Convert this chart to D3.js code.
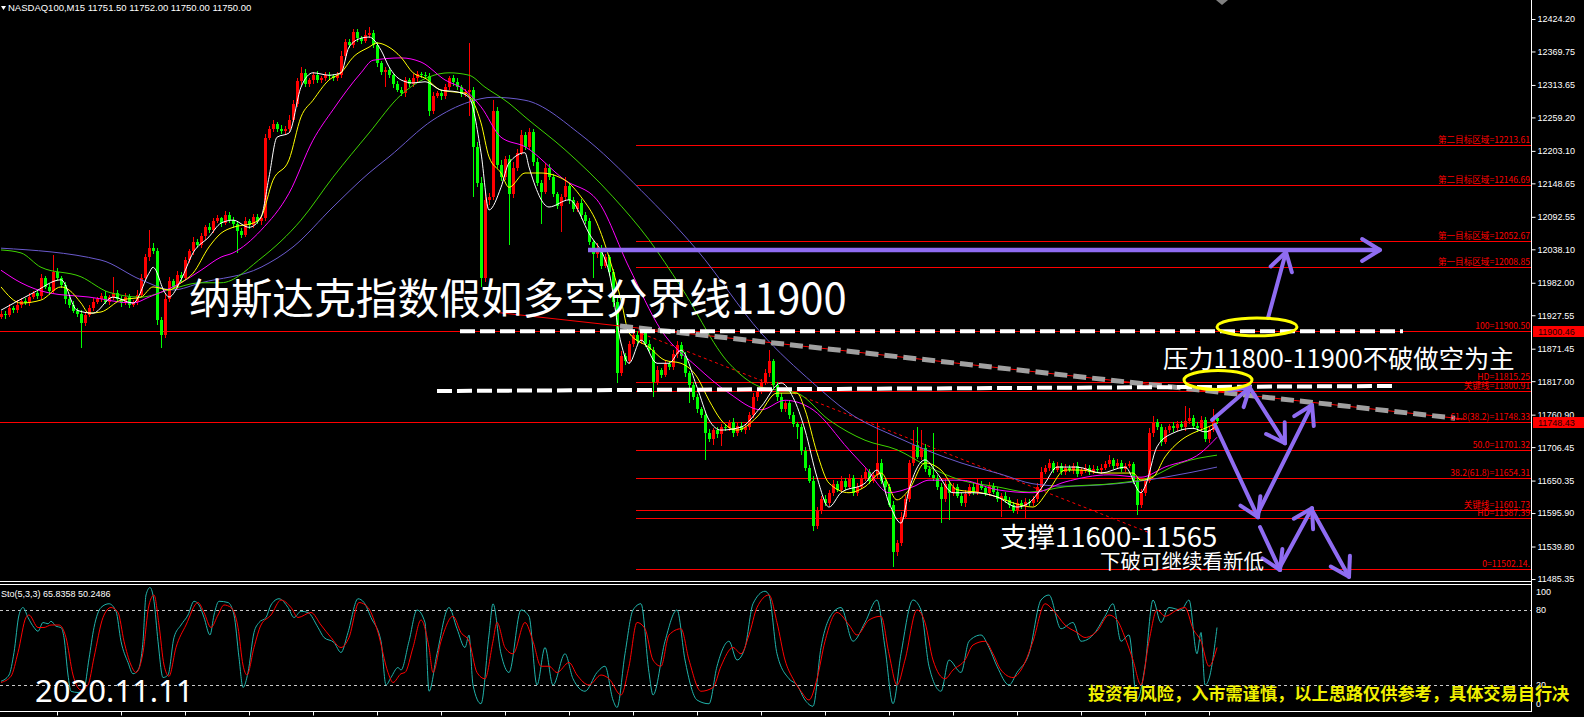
<!DOCTYPE html>
<html>
<head>
<meta charset="utf-8">
<script src="https://cdn.jsdelivr.net/npm/d3@7"></script>
<style>
html, body { margin: 0; padding: 0; background: #000; }
svg { display: block; }
</style>
</head>
<body>
<svg id="chart" width="1584" height="717"></svg>
<script>
// ---- data (bar index 0..304, M15 bars) ----
var firstOpen = 11925;
var closes = [
  11930,11928,11940,11936,11945,11952,11948,11958,11965,11960,
  11990,11975,11968,12000,11990,11978,11955,11945,11935,11930,
  11915,11928,11940,11950,11955,11960,11950,11958,11965,11955,
  11948,11958,11945,11950,11962,11990,12025,12040,12035,11920,
  11895,11955,11985,11975,11995,11990,12020,12035,12050,12045,
  12060,12075,12070,12085,12090,12082,12095,12088,12080,12068,
  12062,12085,12078,12092,12085,12090,12225,12240,12248,12240,
  12236,12240,12255,12282,12320,12334,12315,12322,12330,12322,
  12325,12330,12328,12325,12330,12362,12385,12380,12402,12392,
  12388,12398,12400,12380,12350,12335,12338,12330,12315,12305,
  12300,12322,12315,12325,12332,12330,12328,12270,12295,12300,
  12295,12310,12325,12318,12310,12298,12302,12305,12210,12150,
  11990,12120,12125,12270,12180,12160,12190,12130,12175,12200,
  12230,12210,12235,12185,12150,12135,12175,12160,12130,12110,
  12125,12145,12120,12105,12115,12095,12085,12050,12030,12040,
  12010,12025,12000,11950,11830,11860,11850,11880,11895,11885,
  11898,11880,11870,11815,11835,11828,11845,11840,11862,11878,
  11860,11830,11810,11790,11770,11760,11730,11720,11735,11728,
  11740,11738,11748,11730,11742,11735,11740,11760,11790,11800,
  11815,11830,11850,11810,11790,11770,11780,11760,11745,11740,
  11700,11672,11650,11575,11600,11620,11612,11630,11645,11635,
  11650,11640,11655,11630,11640,11655,11665,11650,11660,11680,
  11650,11640,11610,11530,11545,11590,11620,11680,11710,11690,
  11705,11670,11660,11655,11640,11620,11645,11630,11640,11625,
  11612,11628,11640,11632,11645,11638,11630,11642,11632,11620,
  11625,11618,11610,11600,11612,11608,11615,11612,11620,11640,
  11665,11672,11680,11668,11675,11665,11672,11668,11675,11662,
  11668,11672,11665,11670,11668,11672,11678,11685,11675,11680,
  11670,11675,11678,11650,11610,11630,11650,11730,11748,11740,
  11715,11735,11742,11738,11745,11740,11750,11755,11742,11738,
  11752,11720,11735,11755,11750
];
var upperWick = [
  5,4,6,3,8,4,5,6,3,5, 6,4,5,28,6,4,5,3,6,4, 7,5,4,6,3,5,8,4,27,5, 4,6,5,3,8,6,5,30,8,6,
  5,8,6,4,7,5,6,4,8,5, 6,4,7,5,6,3,8,5,4,6, 5,7,4,6,5,4,7,5,7,4, 6,5,8,6,5,10,6,4,5,7,
  4,6,5,4,6,8,5,6,6,5, 4,7,10,5,6,4,5,6,4,5, 6,5,4,7,5,4,6,5,6,4, 5,6,4,5,7,4,5,79,6,8,
  10,12,8,18,6,8,5,6,10,7, 8,5,6,4,7,5,8,6,5,4, 6,15,5,6,4,7,5,6,4,8, 5,6,4,5,6,8,5,4,7,6,
  5,4,6,5,7,4,6,5,8,6, 5,6,4,5,6,4,5,7,4,6, 5,6,4,7,5,6,4,5,8,6, 5,7,20,5,6,8,4,5,6,4,
  5,6,4,8,6,5,7,4,6,5, 8,4,6,5,7,4,6,5,4,67, 6,5,4,6,5,8,6,5,25,30, 30,6,5,70,4,6,8,5,6,4,
  5,7,4,6,8,5,4,6,5,7, 4,6,5,4,7,5,6,4,5,6, 8,5,6,4,7,5,6,4,5,6, 4,6,5,7,4,6,5,8,4,6,
  5,4,6,4,5,6,4,8,10,6, 5,6,4,7,5,6,25,17,5,6, 7,5,6,15,4
];
var lowerWick = [
  4,6,3,5,4,6,3,5,4,6, 5,4,6,3,5,4,8,5,4,6, 43,5,4,6,3,5,4,6,5,4, 6,4,5,3,6,4,5,6,4,8,
  23,5,6,4,5,6,4,5,6,4, 5,6,4,5,3,6,4,5,6,36, 5,4,6,5,4,6,5,4,5,6, 4,5,6,4,5,6,5,4,6,5,
  5,4,6,5,4,5,6,5,4,6, 5,4,6,5,6,4,25,5,6,4, 5,6,4,5,6,4,5,8,5,4, 6,5,4,6,5,4,5,40,84,8,
  15,6,8,5,6,8,5,85,6,5, 4,6,5,8,6,55,5,6,4,5, 43,5,6,4,5,6,4,5,40,6, 5,4,6,8,16,5,6,4,5,6,
  5,6,4,24,5,6,4,5,4,6, 5,6,30,5,6,4,45,5,10,6, 20,5,4,6,5,4,6,5,4,6, 5,4,6,5,6,4,5,6,4,20,
  6,5,4,10,5,6,4,5,6,4, 5,6,4,5,6,4,5,6,4,5, 6,5,4,25,6,5,4,6,5,4, 5,6,4,5,6,40,5,45,6,4,
  5,6,4,5,6,4,5,6,4,5, 30,5,6,4,5,6,20,5,4,6, 5,4,6,5,4,6,5,4,6,5, 4,5,6,4,5,6,4,5,6,4,
  5,6,4,5,18,6,5,4,6,5, 6,4,5,6,4,5,6,4,5,6, 4,5,7,4,5
];

// moving averages, [bar, price]
var maWhite = [[0,11936],[8,11965],[15,11987],[19,11936],[23,11931],[28,11958],[33,11948],[37,11998],[38,12008],[41,11965],[42,11958],[45,11987],[48,12032],[52,12059],[55,12082],[58,12087],[62,12075],[65,12092],[67,12159],[69,12226],[72,12233],[75,12310],[78,12334],[82,12330],[85,12334],[87,12377],[90,12392],[92,12394],[95,12372],[97,12344],[100,12322],[103,12317],[106,12319],[110,12305],[114,12302],[117,12293],[120,12200],[122,12104],[125,12142],[127,12183],[131,12200],[132,12176],[137,12109],[142,12121],[147,12065],[152,12000],[155,11881],[157,11847],[160,11886],[164,11847],[167,11847],[170,11869],[174,11807],[177,11752],[180,11735],[185,11740],[190,11774],[195,11814],[198,11790],[201,11735],[204,11656],[207,11606],[210,11630],[216,11646],[219,11668],[222,11613],[225,11579],[227,11635],[231,11685],[234,11663],[238,11630],[243,11630],[249,11623],[254,11606],[257,11613],[261,11646],[264,11673],[269,11673],[275,11663],[281,11673],[285,11630],[286,11640],[289,11707],[293,11730],[298,11738],[301,11732],[304,11743]];
var maYellow = [[0,11975],[5,11948],[10,11953],[15,11975],[17,11970],[20,11948],[22,11931],[25,11933],[30,11953],[35,11958],[38,11975],[42,11970],[45,11982],[48,11998],[52,12042],[55,12065],[58,12075],[63,12082],[65,12092],[68,12154],[72,12188],[75,12260],[78,12288],[82,12322],[85,12334],[88,12360],[92,12377],[94,12384],[97,12377],[100,12360],[103,12334],[106,12325],[110,12305],[113,12302],[116,12300],[120,12250],[122,12193],[125,12166],[127,12142],[131,12166],[135,12166],[141,12154],[145,12126],[149,12082],[152,12025],[155,11953],[157,11898],[162,11874],[166,11852],[170,11847],[174,11824],[177,11785],[180,11752],[184,11735],[189,11757],[194,11797],[199,11797],[201,11769],[204,11697],[207,11646],[212,11630],[216,11640],[220,11663],[224,11618],[227,11635],[231,11680],[235,11668],[239,11635],[245,11630],[249,11623],[253,11613],[258,11606],[262,11635],[266,11668],[270,11668],[275,11663],[283,11663],[285,11651],[288,11656],[291,11690],[295,11718],[298,11730],[301,11738],[304,11747]];
var maMagenta = [[0,12003],[5,11982],[12,11965],[22,11958],[33,11948],[37,11958],[45,11982],[50,12003],[55,12025],[58,12032],[65,12070],[72,12132],[78,12221],[83,12272],[90,12334],[93,12355],[100,12359],[105,12352],[111,12322],[116,12305],[120,12277],[125,12226],[131,12210],[141,12154],[149,12121],[157,12008],[165,11903],[174,11841],[182,11797],[190,11769],[196,11785],[203,11769],[212,11702],[216,11673],[222,11630],[228,11640],[232,11651],[240,11651],[249,11635],[258,11630],[266,11648],[277,11660],[285,11656],[291,11673],[300,11697],[304,11723]];
var maGreen = [[0,12037],[5,12032],[10,12008],[20,11992],[27,11966],[35,11958],[42,11970],[50,11982],[55,11982],[65,12023],[75,12087],[83,12159],[92,12233],[100,12297],[107,12327],[112,12334],[117,12330],[121,12310],[127,12283],[131,12260],[141,12205],[153,12126],[162,12054],[170,11975],[182,11847],[190,11807],[199,11797],[207,11752],[216,11718],[224,11702],[232,11673],[240,11651],[249,11640],[257,11631],[266,11640],[279,11646],[287,11655],[295,11680],[304,11693]];
var maBlue = [[0,12040],[25,12020],[35,11987],[43,11970],[50,11982],[65,12008],[73,12042],[83,12109],[92,12166],[97,12193],[108,12255],[117,12285],[123,12293],[131,12288],[145,12230],[160,12137],[174,12037],[190,11898],[203,11814],[212,11764],[224,11723],[240,11680],[250,11661],[258,11645],[266,11641],[275,11643],[283,11648],[291,11656],[304,11673]];

// Sto(5,3,3): main (cyan) and signal (red), [bar, value]
var stoMain = [[0,23],[2,28],[3.25,46],[4.5,76],[5.5,82],[6.75,74],[8.25,66],[9.25,63],[10.5,70],[11.75,69],[12.5,71],[13.75,67],[15,66],[15.75,58],[16.75,28],[17.5,15],[19.25,14],[20.75,17],[22,41],[23.25,66],[25,82],[27,85],[28.75,79],[30,55],[31.75,38],[33,29],[34.25,32],[35.5,55],[36.25,92],[37.25,98],[38.25,87],[39.25,55],[40.5,26],[41.75,28],[43.25,58],[45,68],[46.75,76],[48.25,87],[49.5,84],[50.75,74],[52.25,60],[53.25,76],[54.5,87],[56.75,86],[58.25,76],[59.5,42],[60.5,18],[61.75,30],[63.25,62],[64.5,70],[66.25,74],[67.5,84],[69.5,89],[71.75,82],[73.25,74],[75,79],[76.75,78],[79.25,66],[80.75,58],[83.25,54],[85,46],[86.75,62],[89.25,89],[90.75,86],[92.5,74],[95,55],[96.25,20],[97.5,26],[99.25,34],[100,32],
  [102,55],[104,80],[106,70],[107,15],[109,45],[112,82],[114,65],[116,50],[117,60],[118,20],[120,5],[122,60],[123,85],[125,45],[127,30],[130,80],[132,75],[134,20],[136,50],[138,20],[141,45],[143,25],[146,15],[149,30],[151,35],[153,8],[154,2],[156,45],[158,80],[160,85],[162,30],[163,12],[166,55],[169,80],[171,40],[174,8],[177,5],[179,35],[182,55],[184,40],[186,50],[188,85],[191,95],[192,92],[194,45],[197,25],[199,20],[201,8],[203,3],[205,50],[208,78],[210,82],[213,55],[216,70],[219,88],[221,50],[223,5],[225,45],[228,88],[230,80],[232,35],[235,15],[237,40],[240,30],[242,55],[245,60],[247,50],[249,35],[252,20],[254,30],[257,45],[260,88],[262,92],[265,65],[268,70],[270,55],[273,60],[276,75],[278,85],[280,55],[282,60],[284,8],[286,35],[288,88],[290,70],[292,82],[295,80],[297,88],[299,45],[300,62],[301,20],[302,25],[304,66]];
var stoSignal = [[0,22],[2.5,27],[4.25,46],[6.25,74],[7,76],[9.25,66],[10.75,66],[12.5,68],[14.5,68],[16.25,58],[18,28],[20,16],[21.75,20],[23.25,42],[25.5,74],[27.5,82],[29.25,78],[30.75,55],[32.5,36],[33.75,30],[35.5,46],[37,84],[38.25,92],[39.5,68],[40.75,36],[42,27],[43.75,50],[46.25,68],[49.25,86],[50.75,78],[52.5,66],[54.25,76],[55.75,84],[57.5,82],[59.25,66],[60.5,36],[61.5,28],[63.25,50],[65,68],[67.5,76],[70,88],[72.5,82],[74.25,74],[77.5,78],[80,68],[82.5,58],[85,50],[87,58],[89.5,86],[91.75,82],[94.25,62],[96.75,30],[98,22],[100,29],
  [101,30],[103,50],[105,72],[107,50],[108,30],[110,55],[113,75],[115,62],[117,55],[119,30],[121,25],[123,55],[124,70],[126,50],[128,45],[131,70],[133,55],[135,35],[137,35],[139,30],[142,38],[144,28],[147,20],[150,28],[152,25],[155,12],[157,35],[159,70],[161,65],[163,40],[165,35],[167,60],[170,65],[172,40],[175,15],[178,18],[180,35],[183,50],[185,45],[187,60],[189,82],[192,92],[194,70],[196,40],[198,25],[200,15],[202,8],[204,25],[206,55],[209,78],[212,68],[214,60],[217,72],[220,75],[222,45],[224,20],[226,40],[229,80],[231,70],[233,40],[236,25],[238,32],[241,40],[243,52],[246,55],[248,45],[250,32],[253,26],[255,32],[258,55],[261,85],[263,80],[266,68],[269,62],[271,58],[274,63],[277,76],[279,72],[281,58],[283,40],[285,20],[287,55],[289,80],[291,75],[294,80],[296,82],[298,65],[300,55],[302,35],[304,50]];

// axis ticks
var priceTicks = [12424.20,12369.75,12313.65,12259.20,12203.10,12148.65,12092.55,12038.10,11982.00,11927.55,11871.45,11817.00,11760.90,11706.45,11650.35,11595.90,11539.80,11485.35];
var stoTicks = [100, 80, 20, 0];
var timeTickBars = [14,30,46,62,78,94,110,126,142,158,174,190,206,222,238,254,270,286,302];

// horizontal levels drawn by the analyst
var levelPrices = [12213.61,12146.69,12052.67,12008.85,11900.50,11815.25,11800.91,11748.33,11701.32,11654.31,11601.73,11587.39,11502.14];
var levelLabels = ["第二目标区域=12213.61","第二目标区域=12146.69","第一目标区域=12052.67","第一目标区域=12008.85","100=11900.50","HD=11815.25","关键线=11800.91","61.8(38.2)=11748.33","50.0=11701.32","38.2(61.8)=11654.31","关键线=11601.73","HD=11587.39","0=11502.14."];
var levelStartBar = 158.75;
var fullWidthLevels = [11900.50, 11748.43];
var priceTags = [11900.46, 11748.43];

// drawn objects, [bar, price]
var whiteDashUpper = [[114.75, 11900.5], [350.5, 11900.5]];
var whiteDashLower = [[109, 11800.5], [349, 11809]];
var grayTrend = [[154.75, 11909.5], [363.5, 11755]];
var redTrend = [[124.75, 11931.7], [366, 11753.2]];
var redDotted = [[154.75, 11911], [287.25, 11562.5]];
var purpleLine = [[146.75, 12037], [344.75, 12037]];
var purpleArrows = [
  [[316.75, 11923], [321.25, 12033.5]],
  [[302.75, 11752], [312.25, 11807]],
  [[312.25, 11805.5], [321, 11713]],
  [[303.5, 11743.5], [314.25, 11589]],
  [[314.25, 11596], [327.75, 11777]],
  [[314.75, 11572.5], [319.75, 11500.5]],
  [[319.75, 11505.5], [327.75, 11604]],
  [[327.75, 11601], [337, 11489]]
];
// [centre bar, centre price, half width in bars, half height in price]
var rings = [[314, 11908, 10, 15], [304.25, 11819, 8.5, 16]];

// ---- layout ----
var svg = d3.select("#chart");
var plotRight = 1531;
var mainBottom = 581;
var stoTop = 584, stoBottom = 711;
var numFont = "'Liberation Sans', Arial, sans-serif";
var cjkFont = "'Noto Sans CJK SC', 'Noto Sans', sans-serif";

svg.append("rect").attr("width", 1584).attr("height", 717).attr("fill", "#000");

var x = d3.scaleLinear().domain([0, 304]).range([1, 1217]);
var y = d3.scaleLinear().domain([11485.35, 12424.20]).range([579, 19]);
var ys = d3.scaleLinear().domain([0, 100]).range([710, 585]);

var defs = svg.append("defs");
defs.append("clipPath").attr("id", "clipMain").append("rect")
    .attr("x", 0).attr("y", 0).attr("width", plotRight).attr("height", mainBottom);
defs.append("clipPath").attr("id", "clipSto").append("rect")
    .attr("x", 0).attr("y", stoTop + 1).attr("width", plotRight).attr("height", stoBottom - stoTop - 1);

var main = svg.append("g").attr("clip-path", "url(#clipMain)");
var sto = svg.append("g").attr("clip-path", "url(#clipSto)");

// level lines
main.selectAll("line.level").data(levelPrices).enter().append("line")
    .attr("x1", x(levelStartBar)).attr("x2", plotRight)
    .attr("y1", d => Math.round(y(d)) + 0.5).attr("y2", d => Math.round(y(d)) + 0.5)
    .attr("stroke", "#ff0000").attr("stroke-width", 1);
main.selectAll("line.full").data(fullWidthLevels).enter().append("line")
    .attr("x1", 0).attr("x2", plotRight)
    .attr("y1", d => Math.round(y(d)) + 0.5).attr("y2", d => Math.round(y(d)) + 0.5)
    .attr("stroke", "#ff0000").attr("stroke-width", 1);

// red dotted line
main.append("line")
    .attr("x1", x(redDotted[0][0])).attr("y1", y(redDotted[0][1]))
    .attr("x2", x(redDotted[1][0])).attr("y2", y(redDotted[1][1]))
    .attr("stroke", "#ff0000").attr("stroke-width", 1).attr("stroke-dasharray", "3,3");

// candles
var candles = closes.map(function (c, i) {
    var o = i === 0 ? firstOpen : closes[i - 1];
    return { i: i, o: o, c: c, h: Math.max(o, c) + upperWick[i], l: Math.min(o, c) - lowerWick[i] };
});
function candleColor(d) { return d.c >= d.o ? "#ff0000" : "#00ff00"; }
var gCandles = main.append("g").attr("shape-rendering", "crispEdges");
gCandles.selectAll("line").data(candles).enter().append("line")
    .attr("x1", d => Math.round(x(d.i)) + 0.5).attr("x2", d => Math.round(x(d.i)) + 0.5)
    .attr("y1", d => y(d.h)).attr("y2", d => y(d.l))
    .attr("stroke", candleColor).attr("stroke-width", 1);
gCandles.selectAll("rect").data(candles).enter().append("rect")
    .attr("x", d => Math.round(x(d.i)) - 1).attr("width", 3)
    .attr("y", d => y(Math.max(d.o, d.c)))
    .attr("height", d => Math.max(1, Math.abs(y(d.o) - y(d.c))))
    .attr("fill", candleColor);

// moving averages
var maLine = d3.line().x(d => x(d[0])).y(d => y(d[1])).curve(d3.curveMonotoneX);
[[maBlue, "#6a5acd"], [maGreen, "#3ed400"], [maMagenta, "#ff00ff"], [maYellow, "#ffff00"], [maWhite, "#ffffff"]]
    .forEach(function (m) {
        main.append("path").datum(m[0]).attr("d", maLine)
            .attr("fill", "none").attr("stroke", m[1]).attr("stroke-width", 1);
    });

// analyst drawings
function seg(g, p, color, width, dash) {
    var l = g.append("line")
        .attr("x1", x(p[0][0])).attr("y1", y(p[0][1]))
        .attr("x2", x(p[1][0])).attr("y2", y(p[1][1]))
        .attr("stroke", color).attr("stroke-width", width);
    if (dash) l.attr("stroke-dasharray", dash);
    return l;
}
function arrowHead(g, p, color) {
    var x0 = x(p[0][0]), y0 = y(p[0][1]), x1 = x(p[1][0]), y1 = y(p[1][1]);
    var a = Math.atan2(y1 - y0, x1 - x0), len = 21, spread = 0.55;
    [a + Math.PI - spread, a + Math.PI + spread].forEach(function (b) {
        g.append("line").attr("x1", x1).attr("y1", y1)
            .attr("x2", x1 + len * Math.cos(b)).attr("y2", y1 + len * Math.sin(b))
            .attr("stroke", color).attr("stroke-width", 4).attr("stroke-linecap", "round");
    });
}

var purple = "#8f6cf2";
seg(main, redTrend, "#ff0000", 1);
seg(main, grayTrend, "#a0a0a0", 5, "13,6");
seg(main, whiteDashUpper, "#ffffff", 4, "15,5");
seg(main, whiteDashLower, "#ffffff", 4, "15,5");

seg(main, purpleLine, purple, 4.5);
arrowHead(main, purpleLine, purple);
purpleArrows.forEach(function (p) {
    seg(main, p, purple, 4).attr("stroke-linecap", "round");
    arrowHead(main, p, purple);
});

main.selectAll("ellipse").data(rings).enter().append("ellipse")
    .attr("cx", d => x(d[0])).attr("cy", d => y(d[1]))
    .attr("rx", d => x(d[0] + d[2]) - x(d[0]))
    .attr("ry", d => y(d[1] - d[3]) - y(d[1]))
    .attr("fill", "none").attr("stroke", "#ffff00").attr("stroke-width", 3);

// level labels
main.selectAll("text.level").data(levelPrices).enter().append("text")
    .attr("x", 1530).attr("y", d => Math.round(y(d)) - 2)
    .attr("text-anchor", "end")
    .attr("font-family", cjkFont).attr("font-size", 8.6)
    .attr("fill", "#ff0000")
    .text((d, i) => levelLabels[i]);

// stochastic panel
[80, 20].forEach(function (v) {
    sto.append("line").attr("x1", 0).attr("x2", plotRight)
        .attr("y1", Math.round(ys(v)) + 0.5).attr("y2", Math.round(ys(v)) + 0.5)
        .attr("stroke", "#c8c8c8").attr("stroke-dasharray", "3,3").attr("stroke-width", 1);
});
var stoLine = d3.line().x(d => x(d[0])).y(d => ys(d[1])).curve(d3.curveMonotoneX);
sto.append("path").datum(stoMain).attr("d", stoLine)
    .attr("fill", "none").attr("stroke", "#20b2aa").attr("stroke-width", 1);
sto.append("path").datum(stoSignal).attr("d", stoLine)
    .attr("fill", "none").attr("stroke", "#ff0000").attr("stroke-width", 1);
sto.append("text").attr("x", 1).attr("y", 597)
    .attr("font-family", numFont).attr("font-size", 9).attr("fill", "#ffffff")
    .text("Sto(5,3,3) 65.8358 50.2486");

// frames
var frame = svg.append("g").attr("stroke", "#ffffff").attr("stroke-width", 1).attr("shape-rendering", "crispEdges");
frame.append("line").attr("x1", plotRight + 0.5).attr("x2", plotRight + 0.5).attr("y1", 0).attr("y2", stoBottom + 0.5);
frame.append("line").attr("x1", 0).attr("x2", plotRight).attr("y1", mainBottom + 0.5).attr("y2", mainBottom + 0.5);
frame.append("line").attr("x1", 0).attr("x2", plotRight).attr("y1", stoTop + 0.5).attr("y2", stoTop + 0.5);
frame.append("line").attr("x1", 0).attr("x2", plotRight + 1).attr("y1", stoBottom + 0.5).attr("y2", stoBottom + 0.5);

// price axis
var yAxis = svg.append("g").attr("transform", "translate(" + (plotRight + 0.5) + ",0)")
    .call(d3.axisRight(y).tickValues(priceTicks).tickFormat(d3.format(".2f")).tickSize(4).tickPadding(2));
yAxis.select(".domain").remove();
yAxis.selectAll("line").attr("stroke", "#ffffff");
yAxis.selectAll("text").attr("fill", "#ffffff").attr("font-family", numFont).attr("font-size", 9);

// current price tags
priceTags.forEach(function (p) {
    var cy = Math.round(y(p));
    svg.append("rect").attr("x", plotRight + 2).attr("y", cy - 5).attr("width", 1584 - plotRight - 2).attr("height", 11)
        .attr("fill", "#ff0000");
    svg.append("text").attr("x", plotRight + 7).attr("y", cy + 4)
        .attr("font-family", numFont).attr("font-size", 9).attr("fill", "#1a0000")
        .text(d3.format(".2f")(p));
});

// stochastic scale labels (MT4 keeps the end labels inside the panel)
svg.selectAll("text.sto").data(stoTicks).enter().append("text")
    .attr("x", plotRight + 5)
    .attr("y", d => ys(d) + (d === 100 ? 10 : d === 0 ? -3 : 3))
    .attr("font-family", numFont).attr("font-size", 9).attr("fill", "#ffffff")
    .text(d => d);

// time axis ticks (labels fall below the picture)
var xAxis = svg.append("g").attr("transform", "translate(0," + (stoBottom + 0.5) + ")")
    .call(d3.axisBottom(x).tickValues(timeTickBars).tickFormat("").tickSize(4));
xAxis.select(".domain").remove();
xAxis.selectAll("line").attr("stroke", "#ffffff");

// header
svg.append("path").attr("d", "M1,6 L6,6 L3.5,10 Z").attr("fill", "#ffffff");
svg.append("text").attr("x", 8).attr("y", 11)
    .attr("font-family", numFont).attr("font-size", 9.5).attr("fill", "#ffffff")
    .text("NASDAQ100,M15  11751.50 11752.00 11750.00 11750.00");
svg.append("path").attr("d", "M1216,0 L1228,0 L1222,5 Z").attr("fill", "#808080");

// annotation text
function note(txt, px, py, size, color, weight, family) {
    svg.append("text").attr("x", px).attr("y", py)
        .attr("font-family", family || cjkFont).attr("font-size", size)
        .attr("font-weight", weight || 400).attr("fill", color)
        .text(txt);
}
note("纳斯达克指数假如多空分界线11900", 189, 314, 41.7, "#ffffff");
note("压力11800-11900不破做空为主", 1163, 368, 25.3, "#ffffff");
note("支撑11600-11565", 1000, 547, 27.5, "#ffffff");
note("下破可继续看新低", 1100, 569, 20.5, "#ffffff");
note("2020.11.11", 35, 702, 31, "#ffffff", 400, "'Noto Sans', sans-serif");
note("投资有风险，入市需谨慎，以上思路仅供参考，具体交易自行决", 1088, 700, 17.2, "#f0f000", 700);
</script>
</body>
</html>
